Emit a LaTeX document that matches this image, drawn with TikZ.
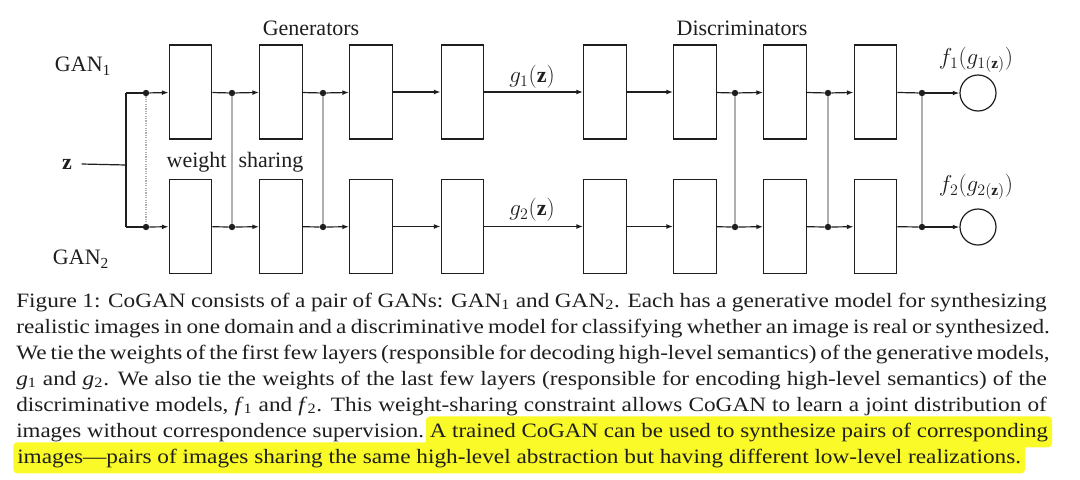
\documentclass[tikz,border=0pt]{standalone}
\usepackage{fontspec}
\usepackage{graphicx}
\setmainfont{Liberation Serif}
\usetikzlibrary{arrows.meta}
\definecolor{hl}{RGB}{250,250,40}
\definecolor{ink}{RGB}{30,30,30}
\definecolor{sharegray}{RGB}{175,175,175}
\newcommand{\capx}[1]{\scalebox{1.14}[1]{#1}}
\newcommand{\capy}[1]{\scalebox{1.125}[1]{#1}}
\tikzset{
  lbl/.style={font=\fontsize{16.5pt}{19pt}\selectfont, text=ink, inner sep=0pt},
  layer/.style={draw=ink, line width=0.9pt, minimum width=32pt, minimum height=70.5pt, inner sep=0pt},
  outc/.style={draw=ink, line width=0.9pt, circle, minimum size=27pt, inner sep=0pt},
  dotn/.style={circle, fill=ink, inner sep=0pt, minimum size=4.8pt},
  conn/.style={draw=ink, line width=0.9pt},
  arr/.style={draw=ink, line width=0.9pt, -{Latex[length=5pt,width=3.6pt]}},
  share/.style={draw=sharegray, line width=0.8pt},
  capline/.style={anchor=base west, inner sep=0pt, text=ink, font=\fontsize{15.3pt}{19.5pt}\selectfont},
  hlpart/.style={inner xsep=3pt, inner ysep=4pt, text height=11.5pt, text depth=3.8pt, fill=hl, rounded corners=3pt, text=ink, font=\fontsize{15.3pt}{19.5pt}\selectfont}
}
\begin{document}
\begin{tikzpicture}[x=0.75pt,y=-0.75pt]
\useasboundingbox (0,0) rectangle (1080,479);
\fill[white] (0,0) rectangle (1080,479);

% labels
\node[lbl] (gen) at (311,28) {Generators};
\node[lbl] (dis) at (742,28) {Discriminators};
\node[lbl] (gan1) at (83,66) {GAN\textsubscript{1}};
\node[lbl] (gan2) at (81,259) {GAN\textsubscript{2}};
\node[lbl] (ws) at (235,162) {weight\hskip 9pt sharing};
\node[lbl] (z) at (67,164) {$\mathbf{z}$};
\node[lbl] (g1l) at (532,77) {$g_1(\mathbf{z})$};
\node[lbl] (g2l) at (532,210) {$g_2(\mathbf{z})$};
\node[lbl] (f1l) at (976,60) {$f_1(g_{1(\mathbf{z})})$};
\node[lbl] (f2l) at (976,187) {$f_2(g_{2(\mathbf{z})})$};

% layers
\foreach \i/\x in {1/190.5,2/281,3/371,4/462.5,5/605,6/695,7/785,8/875.5}{
  \node[layer] (B\i t) at (\x,92) {};
  \node[layer] (B\i b) at (\x,226.5) {};
}
\node[outc] (C1) at (978,93) {};
\node[outc] (C2) at (978,227) {};

% junction dots
\foreach \i/\x in {1/146,2/232,3/323,4/735,5/828,6/922}{
  \node[dotn] (d\i t) at (\x,93) {};
  \node[dotn] (d\i b) at (\x,227) {};
}

% input split
\coordinate (zj) at (126,165);
\coordinate (s1) at (126,93);
\coordinate (s2) at (126,227);
\draw[conn] ([xshift=11pt]z.center) -- (zj);
\draw[conn] (s1) -- (s2);

% weight sharing lines
\draw[share, densely dotted] (d1t) -- (d1b);
\foreach \i in {2,3,4,5,6}{ \draw[share] (d\i t) -- (d\i b); }

% rows
\foreach \r in {t,b}{
  \draw[conn] (s1|-d1\r) -- (d1\r);
  \draw[arr] (d1\r) -- (B1\r);
  \draw[conn] (B1\r) -- (d2\r);
  \draw[arr] (d2\r) -- (B2\r);
  \draw[conn] (B2\r) -- (d3\r);
  \draw[arr] (d3\r) -- (B3\r);
  \draw[arr] (B3\r) -- (B4\r);
  \draw[arr] (B4\r) -- (B5\r);
  \draw[arr] (B5\r) -- (B6\r);
  \draw[conn] (B6\r) -- (d4\r);
  \draw[arr] (d4\r) -- (B7\r);
  \draw[conn] (B7\r) -- (d5\r);
  \draw[arr] (d5\r) -- (B8\r);
  \draw[conn] (B8\r) -- (d6\r);
}
\draw[arr] (d6t) -- (C1);
\draw[arr] (d6b) -- (C2);

% caption
\node[capline] (l1) at (16,307) {\capx{\hbox to 678pt{Figure 1: CoGAN consists of a pair of GANs: GAN\textsubscript{1} and GAN\textsubscript{2}. Each has a generative model for synthesizing}}};
\node[capline] (l2) at (16,333) {\capx{\hbox to 680pt{realistic images in one domain and a discriminative model for classifying whether an image is real or synthesized.}}};
\node[capline] (l3) at (16,359) {\capx{\hbox to 678pt{We tie the weights of the first few layers (responsible for decoding high-level semantics) of the generative models,}}};
\node[capline] (l4) at (16,385) {\capx{\hbox to 678pt{\textit{g}\textsubscript{1} and \textit{g}\textsubscript{2}. We also tie the weights of the last few layers (responsible for encoding high-level semantics) of the}}};
\node[capline] (l5) at (16,411) {\capx{\hbox to 678pt{discriminative models, \textit{f}\textsubscript{1} and \textit{f}\textsubscript{2}. This weight-sharing constraint allows CoGAN to learn a joint distribution of}}};
\node[hlpart, anchor=base west] (l7) at (13,463) {\capx{images---pairs of images sharing the same high-level abstraction but having different low-level realizations.}};
\node[capline] (l6a) at (16,437) {\capy{images without correspondence supervision.}};
\node[hlpart, anchor=base east] (l6b) at ([xshift=4pt]1047,437) {\capy{A trained CoGAN can be used to synthesize pairs of corresponding}};
\end{tikzpicture}
\end{document}
